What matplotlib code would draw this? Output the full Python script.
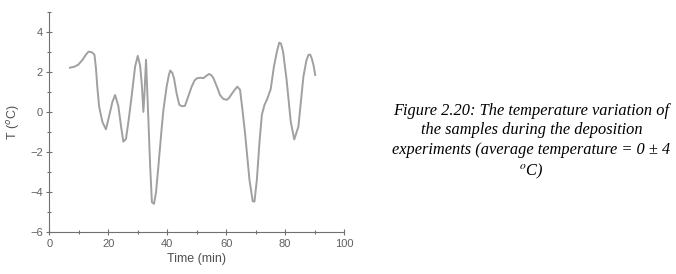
import matplotlib.pyplot as plt
from matplotlib.ticker import MultipleLocator

# temperature of the samples
time_min = [7.0, 8.5, 9.8, 11.3, 12.4, 13.3, 14.4, 15.3, 15.8, 16.3, 16.9, 18.0, 19.2,
            20.3, 21.4, 22.3, 23.4, 24.4, 25.1, 26.0, 27.0, 27.9, 29.1, 30.0,
            30.8, 31.4, 31.9, 32.3, 32.8, 33.5, 34.2, 34.8, 35.5, 36.2, 37.0,
            38.0, 38.7, 39.8, 40.5, 41.0, 41.7, 42.3, 43.2, 44.1, 45.0, 46.0, 47.2,
            48.3, 49.2, 50.0, 51.2, 52.3, 53.3, 54.2, 55.0, 55.7, 57.0, 57.9, 59.0,
            60.2, 61.0, 61.9, 62.9, 63.8, 64.7, 65.6, 66.4, 67.9, 69.0, 69.6,
            70.4, 71.3, 72.1, 73.0, 73.8, 75.1, 76.2, 77.2, 78.0, 78.6, 79.3,
            80.5, 81.9, 83.1, 84.5, 86.2, 87.2, 87.9, 88.5, 89.0, 89.6, 90.2]
temp_c = [2.2, 2.25, 2.35, 2.6, 2.85, 3.0, 2.97, 2.85, 2.2, 1.2, 0.26, -0.5, -0.87,
          -0.2, 0.5, 0.84, 0.3, -0.8, -1.48, -1.35, -0.3, 0.76, 2.26, 2.79,
          2.3, 1.3, 0.0, 1.0, 2.6, 0.0, -2.7, -4.5, -4.58, -4.0, -2.7,
          -1.0, 0.1, 1.26, 1.8, 2.06, 1.95, 1.67, 0.9, 0.35, 0.28, 0.3, 0.8,
          1.26, 1.55, 1.67, 1.7, 1.68, 1.8, 1.89, 1.82, 1.67, 1.2, 0.84, 0.65,
          0.6, 0.7, 0.9, 1.1, 1.26, 1.1, 0.0, -1.07, -3.39, -4.45, -4.47,
          -3.39, -1.5, -0.15, 0.35, 0.6, 1.13, 2.26, 3.0, 3.45, 3.4, 3.0,
          1.59, -0.49, -1.37, -0.73, 1.76, 2.55, 2.84, 2.85, 2.67, 2.35, 1.84]

caption = ("Figure 2.20: The temperature variation of\n"
           "the samples during the deposition\n"
           "experiments (average temperature = 0 \u00b1 4\n"
           "$^{o}$C)")

fig = plt.figure(figsize=(6.76, 2.74), dpi=100)
ax = fig.add_axes([0.073, 0.152, 0.436, 0.806])

ax.plot(time_min, temp_c, color='#a0a0a0', lw=1.4)

ax.set_xlim(0, 100)
ax.set_ylim(-6, 5)
ax.xaxis.set_major_locator(MultipleLocator(20))
ax.xaxis.set_minor_locator(MultipleLocator(10))
ax.yaxis.set_minor_locator(MultipleLocator(1))
ax.set_yticks([-6, -4, -2, 0, 2, 4])

for s in ['top', 'right']:
    ax.spines[s].set_visible(False)
for s in ['left', 'bottom']:
    ax.spines[s].set_color('#707070')

ax.tick_params(which='major', direction='inout', length=5, width=0.8,
               colors='#707070', labelcolor='#606060', labelsize=8,
               pad=2)
ax.tick_params(which='minor', direction='inout', length=3, width=0.8,
               colors='#707070')
for lab in ax.get_xticklabels() + ax.get_yticklabels():
    lab.set_family('Liberation Sans')

ax.set_xlabel('Time (min)', family='Liberation Sans', fontsize=9,
              color='#505050', labelpad=3)
ax.set_ylabel('T ($^o$C)', family='Liberation Sans', fontsize=9,
              color='#505050', labelpad=6)

fig.text(0.786, 0.482, caption, ha='center', va='center', fontsize=11.8,
         family='Liberation Serif', style='italic', linespacing=1.3,
         math_fontfamily='stix')

fig.savefig('out.png', dpi=100)
